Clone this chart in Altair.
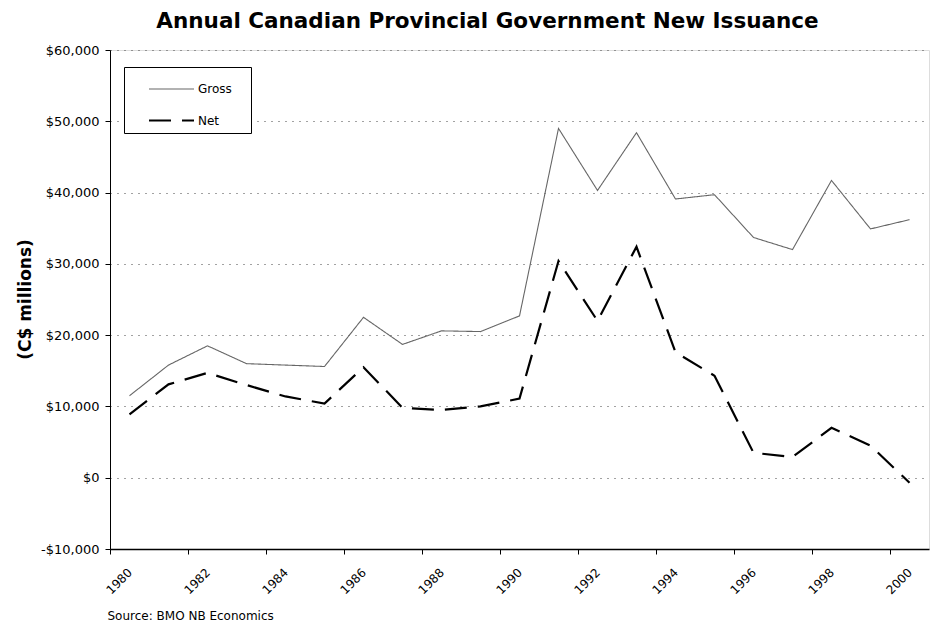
import altair as alt
import pandas as pd

years = list(range(1980, 2001))
gross = [11500, 15800, 18500, 16000, 15800, 15600, 22500, 18700, 20600, 20500,
         22700, 49000, 40300, 48400, 39100, 39700, 33700, 32000, 41700, 34900, 36200]
net = [8900, 13100, 14700, 13000, 11400, 10400, 15500, 9800, 9500, 10000,
       11100, 30400, 22000, 32400, 17600, 14300, 3500, 2900, 7000, 4500, -700]
series_names = ["Gross", "Net"]
tick_years = list(range(1980, 2001, 2))
y_ticks = list(range(-10000, 60001, 10000))

df = pd.DataFrame({
    "year": years + years,
    "value": gross + net,
    "series": ["Gross"] * len(years) + ["Net"] * len(years),
})

font = "DejaVu Sans"

legend = alt.Legend(
    title=".", titleOrient="right", titleColor="white", titlePadding=9,
    titleFontSize=12,
    orient="none", legendX=14, legendY=17,
    strokeColor="black", fillColor="white", padding=6,
    symbolType="M-1.5,0H1.5", symbolSize=900, symbolOffset=25,
    labelFont=font, labelFontSize=12, labelColor="black", labelOffset=10,
    rowPadding=9,
)

chart = alt.Chart(df).mark_line().encode(
    x=alt.X(
        "year:Q",
        scale=alt.Scale(domain=[1979.5, 2000.5], nice=False, zero=False),
        axis=alt.Axis(
            values=tick_years, format="d", labelAngle=-45, labelAlign="right",
            labelBaseline="middle", tickOffset=-19.5, labelOffset=19.5,
            grid=False, tickSize=5, tickColor="black", domainColor="black",
            domainWidth=1.5, labelFont=font, labelFontSize=12, labelColor="black",
            labelPadding=16, labelFlush=False, labelOverlap=False,
            title="Source: BMO NB Economics", titleFont=font, titleFontSize=12,
            titleFontWeight="normal", titleColor="black", titleAnchor="start",
            titleAlign="left", titleX=-3, titleY=66, titleBaseline="middle",
        ),
    ),
    y=alt.Y(
        "value:Q",
        scale=alt.Scale(domain=[-10000, 60000], nice=False),
        axis=alt.Axis(
            values=y_ticks,
            labelExpr="(datum.value < 0 ? '-' : '') + '$' + format(abs(datum.value), ',')",
            grid=True, gridColor="#444444", gridDash=[1, 6], gridWidth=1,
            tickSize=5, tickColor="black", domainColor="black", domainWidth=1,
            labelFont=font, labelFontSize=13, labelColor="black", labelPadding=6,
            title="(C$ millions)", titleFont=font, titleFontSize=17,
            titleFontWeight="bold", titleColor="black", titleX=-85, titleY=249,
            titleAlign="center", titleBaseline="middle",
        ),
    ),
    color=alt.Color("series:N", scale=alt.Scale(domain=series_names, range=["#666666", "#000000"]), legend=legend),
    strokeDash=alt.StrokeDash("series:N", scale=alt.Scale(domain=series_names, range=[[1, 0], [22, 11]]), legend=legend),
    strokeWidth=alt.StrokeWidth("series:N", scale=alt.Scale(domain=series_names, range=[1.1, 2.2]), legend=legend),
).properties(
    width=819,
    height=499,
    padding={"left": 110, "top": 50, "right": 1, "bottom": 78},
    autosize=alt.AutoSizeParams(type="none"),
    title=alt.TitleParams(
        "Annual Canadian Provincial Government New Issuance",
        font=font, fontSize=21.5, fontWeight="bold", color="black",
        anchor="middle", dx=-32, offset=12,
    ),
).configure_view(
    stroke="#333333", strokeDash=[1, 2], strokeWidth=1,
).configure(background="white")

chart.save("out.html", embed_options={"renderer": "svg", "actions": False})
